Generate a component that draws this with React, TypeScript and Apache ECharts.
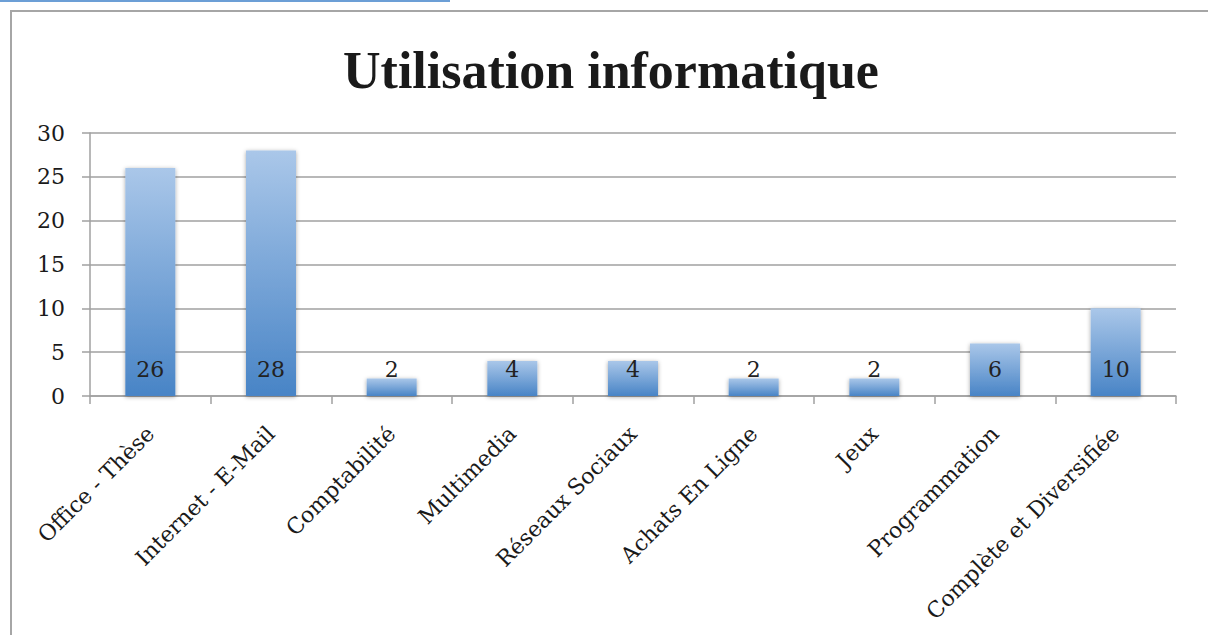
import React, { useEffect, useRef } from "react";
import * as echarts from "echarts";

const categories = [
  "Office - Thèse",
  "Internet - E-Mail",
  "Comptabilité",
  "Multimedia",
  "Réseaux Sociaux",
  "Achats En Ligne",
  "Jeux",
  "Programmation",
  "Complète et Diversifiée",
];
const values = [26, 28, 2, 4, 4, 2, 2, 6, 10];
const titleText = "Utilisation informatique";

const TITLE_FONT = "'Liberation Serif', 'DejaVu Serif', serif";
const FONT = "'DejaVu Serif', 'Liberation Serif', serif";

export default function App() {
  const ref = useRef<HTMLDivElement>(null);
  useEffect(() => {
    if (!ref.current) return;
    const chart = echarts.init(ref.current, undefined, { renderer: "svg" });
    chart.setOption({
      animation: false,
      backgroundColor: "#ffffff",
      graphic: [
        {
          type: "line",
          shape: { x1: 0, y1: 1, x2: 450, y2: 1 },
          style: { stroke: "#6c9fd6", lineWidth: 2 },
        },
        {
          type: "polyline",
          shape: { points: [[11, 640], [11, 11], [1210, 11]] },
          style: { stroke: "#a6a6a6", lineWidth: 2, fill: "none" },
        },
        {
          type: "text",
          x: 611,
          y: 70,
          style: {
            text: titleText,
            textAlign: "center",
            textVerticalAlign: "middle",
            fontFamily: TITLE_FONT,
            fontWeight: "bold",
            fontSize: 52,
            fill: "#1a1a1a",
          },
        },
      ],
      grid: { left: 90, right: 32, top: 133, bottom: 239 },
      xAxis: {
        type: "category",
        data: categories,
        axisLine: { show: true, lineStyle: { color: "#a0a0a0", width: 1.5 } },
        axisTick: { show: true, length: 8, alignWithLabel: false, lineStyle: { color: "#a0a0a0", width: 1.5 } },
        axisLabel: {
          rotate: 45,
          interval: 0,
          margin: 34,
          fontFamily: FONT,
          fontSize: 22,
          color: "#1a1a1a",
        },
      },
      yAxis: {
        type: "value",
        min: 0,
        max: 30,
        interval: 5,
        axisLine: { show: true, lineStyle: { color: "#a0a0a0", width: 1.5 } },
        axisTick: { show: true, length: 8, lineStyle: { color: "#a0a0a0", width: 1.5 } },
        splitLine: { show: true, lineStyle: { color: "#a0a0a0", width: 1.5 } },
        axisLabel: {
          margin: 25,
          fontFamily: FONT,
          fontSize: 22,
          color: "#1a1a1a",
        },
      },
      series: [
        {
          type: "bar",
          data: values,
          barWidth: 50,
          itemStyle: {
            color: new echarts.graphic.LinearGradient(0, 0, 0, 1, [
              { offset: 0, color: "#aac7e9" },
              { offset: 1, color: "#4884c6" },
            ]),
            shadowBlur: 4,
            shadowColor: "rgba(0,0,0,0.35)",
            shadowOffsetY: 1,
          },
          label: {
            show: true,
            position: "insideBottom",
            distance: 16,
            fontFamily: FONT,
            fontSize: 22,
            color: "#222222",
          },
        },
      ],
    });
    return () => chart.dispose();
  }, []);
  return (
    <div
      ref={ref}
      style={{ position: "fixed", left: 0, top: 0, width: 1208, height: 635, background: "#fff" }}
    />
  );
}
